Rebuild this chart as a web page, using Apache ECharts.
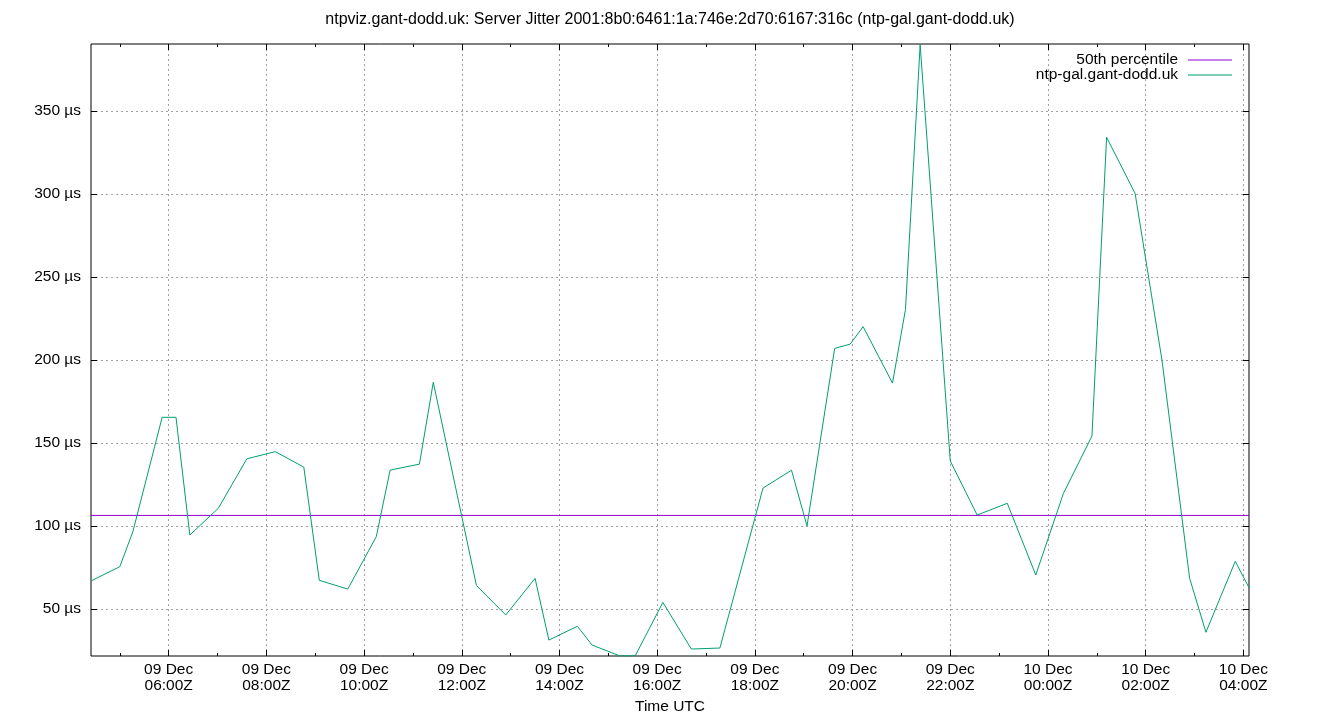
<!DOCTYPE html>
<html>
<head>
<meta charset="utf-8">
<script src="https://cdn.jsdelivr.net/npm/echarts@6/dist/echarts.min.js"></script>
<style>
html,body{margin:0;padding:0;background:#fff;}
#chart{width:1340px;height:720px;}
</style>
</head>
<body>
<div id="chart"></div>
<script>
// Sample times (day-of-month + UTC time) and server jitter in microseconds
const sampleTimes = [
  '09 04:25','09 05:00','09 05:16','09 05:52','09 06:09','09 06:26','09 07:01','09 07:36',
  '09 08:11','09 08:46','09 09:05','09 09:40','09 10:15','09 10:32','09 11:08','09 11:25',
  '09 12:18','09 12:54','09 13:30','09 13:47','09 14:22','09 14:40','09 15:14','09 15:33',
  '09 16:07','09 16:42','09 17:17','09 18:10','09 18:45','09 19:04','09 19:38','09 19:57',
  '09 20:13','09 20:49','09 21:05','09 21:23','09 22:00','09 22:33','09 23:10','09 23:45',
  '10 00:19','10 00:54','10 01:12','10 01:47','10 02:20','10 02:54','10 03:14','10 03:50',
  '10 04:07'
];
const jitterUs = [
  67.0, 75.5, 96.6, 165.5, 165.5, 94.6, 110.7, 140.5,
  144.8, 135.5, 67.3, 62.0, 93.6, 133.7, 137.3, 186.6,
  64.2, 46.4, 68.5, 31.3, 39.6, 28.3, 21.8, 21.8,
  54.0, 25.9, 26.5, 122.9, 133.6, 100.0, 207.0, 209.6,
  220.1, 186.1, 230.5, 390.0, 139.2, 106.6, 113.7, 70.5,
  119.7, 154.2, 334.2, 300.4, 200.0, 68.5, 36.0, 78.7,
  62.8
];
const percentile50 = 106.4;

// Axis ranges (hours since 09 Dec 00:00Z) and tick positions / labels
const xRange = [4.41, 28.115];
const yRange = [21.7, 390.4];
const xMajorTicks = [6, 8, 10, 12, 14, 16, 18, 20, 22, 24, 26, 28];
const xMajorLabels = [
  '09 Dec\n06:00Z','09 Dec\n08:00Z','09 Dec\n10:00Z','09 Dec\n12:00Z',
  '09 Dec\n14:00Z','09 Dec\n16:00Z','09 Dec\n18:00Z','09 Dec\n20:00Z',
  '09 Dec\n22:00Z','10 Dec\n00:00Z','10 Dec\n02:00Z','10 Dec\n04:00Z'
];
const xMinorTicks = [5, 7, 9, 11, 13, 15, 17, 19, 21, 23, 25, 27];
const yTicks = [50, 100, 150, 200, 250, 300, 350];
const yTickLabels = ['50 µs','100 µs','150 µs','200 µs','250 µs','300 µs','350 µs'];

const titleText = 'ntpviz.gant-dodd.uk: Server Jitter 2001:8b0:6461:1a:746e:2d70:6167:316c (ntp-gal.gant-dodd.uk)';
const seriesNames = ['50th percentile', 'ntp-gal.gant-dodd.uk'];

function toHours(s) {
  const day = parseInt(s.slice(0, 2), 10);
  const hh = parseInt(s.slice(3, 5), 10);
  const mm = parseInt(s.slice(6, 8), 10);
  return (day - 9) * 24 + hh + mm / 60;
}

const jitterData = sampleTimes.map((t, i) => [toHours(t), jitterUs[i]]);
const pctData = [[xRange[0], percentile50], [xRange[1], percentile50]];

const FONT = 'Liberation Sans';
const gridStyle = { color: '#a0a0a0', width: 1, type: [2, 3] };

function minorAxis(pos) {
  return {
    type: 'value', gridIndex: 0, position: pos, min: xRange[0], max: xRange[1],
    axisLine: { show: false },
    axisTick: { show: true, inside: true, length: 3, customValues: xMinorTicks, lineStyle: { color: '#000', width: 1 } },
    axisLabel: { show: false },
    splitLine: { show: false }
  };
}

const chart = echarts.init(document.getElementById('chart'), null, { renderer: 'canvas' });
chart.setOption({
  animation: false,
  backgroundColor: '#ffffff',
  textStyle: { fontFamily: FONT },
  title: {
    text: titleText,
    left: 'center',
    top: 12,
    padding: 0,
    textStyle: { fontFamily: FONT, fontSize: 16, fontWeight: 'normal', color: '#000' }
  },
  legend: [
    {
      data: [seriesNames[0]], right: 108, top: 52, padding: 0, orient: 'vertical', align: 'right',
      icon: 'rect', itemWidth: 44, itemHeight: 1, selectedMode: false,
      textStyle: { fontFamily: FONT, fontSize: 15.5, color: '#000', lineHeight: 15, padding: [0, 5, 0, 0] }
    },
    {
      data: [seriesNames[1]], right: 108, top: 67, padding: 0, orient: 'vertical', align: 'right',
      icon: 'rect', itemWidth: 44, itemHeight: 1, selectedMode: false,
      textStyle: { fontFamily: FONT, fontSize: 15.5, color: '#000', lineHeight: 15, padding: [0, 5, 0, 0] }
    }
  ],
  grid: {
    left: 91, right: 91, top: 44, bottom: 64,
    show: true, borderColor: '#000', borderWidth: 1, backgroundColor: 'transparent'
  },
  xAxis: [
    {
      type: 'value', gridIndex: 0, position: 'bottom', min: xRange[0], max: xRange[1],
      axisLine: { show: false },
      axisTick: { show: true, inside: true, length: 6, customValues: xMajorTicks, lineStyle: { color: '#000', width: 1 } },
      axisLabel: {
        show: true, customValues: xMajorTicks, margin: 6, color: '#000', fontFamily: FONT, fontSize: 15.5, lineHeight: 16,
        formatter: function (v) { const i = xMajorTicks.indexOf(Math.round(v)); return i >= 0 ? xMajorLabels[i] : ''; }
      },
      splitLine: { show: true, lineStyle: gridStyle },
      name: 'Time UTC', nameLocation: 'middle', nameGap: 42,
      nameTextStyle: { fontFamily: FONT, fontSize: 15.5, color: '#000' }
    },
    minorAxis('bottom'),
    {
      type: 'value', gridIndex: 0, position: 'top', min: xRange[0], max: xRange[1],
      axisLine: { show: false },
      axisTick: { show: true, inside: true, length: 6, customValues: xMajorTicks, lineStyle: { color: '#000', width: 1 } },
      axisLabel: { show: false },
      splitLine: { show: false }
    },
    minorAxis('top')
  ],
  yAxis: [
    {
      type: 'value', gridIndex: 0, position: 'left', min: yRange[0], max: yRange[1],
      axisLine: { show: false },
      axisTick: { show: true, inside: true, length: 6, customValues: yTicks, lineStyle: { color: '#000', width: 1 } },
      axisLabel: {
        show: true, customValues: yTicks, margin: 10, color: '#000', fontFamily: FONT, fontSize: 15.5,
        formatter: function (v) { const i = yTicks.indexOf(Math.round(v)); return i >= 0 ? yTickLabels[i] : ''; }
      },
      splitLine: { show: true, lineStyle: gridStyle }
    },
    {
      type: 'value', gridIndex: 0, position: 'right', min: yRange[0], max: yRange[1],
      axisLine: { show: false },
      axisTick: { show: true, inside: true, length: 6, customValues: yTicks, lineStyle: { color: '#000', width: 1 } },
      axisLabel: { show: false },
      splitLine: { show: false }
    }
  ],
  series: [
    {
      name: seriesNames[0], type: 'line', xAxisIndex: 0, yAxisIndex: 0,
      data: pctData, showSymbol: false, symbol: 'none',
      lineStyle: { color: '#9400d3', width: 1 }, itemStyle: { color: '#9400d3' }
    },
    {
      name: seriesNames[1], type: 'line', xAxisIndex: 0, yAxisIndex: 0,
      data: jitterData, showSymbol: false, symbol: 'none', clip: true,
      lineStyle: { color: '#009e73', width: 1 }, itemStyle: { color: '#009e73' }
    }
  ]
});
</script>
</body>
</html>
